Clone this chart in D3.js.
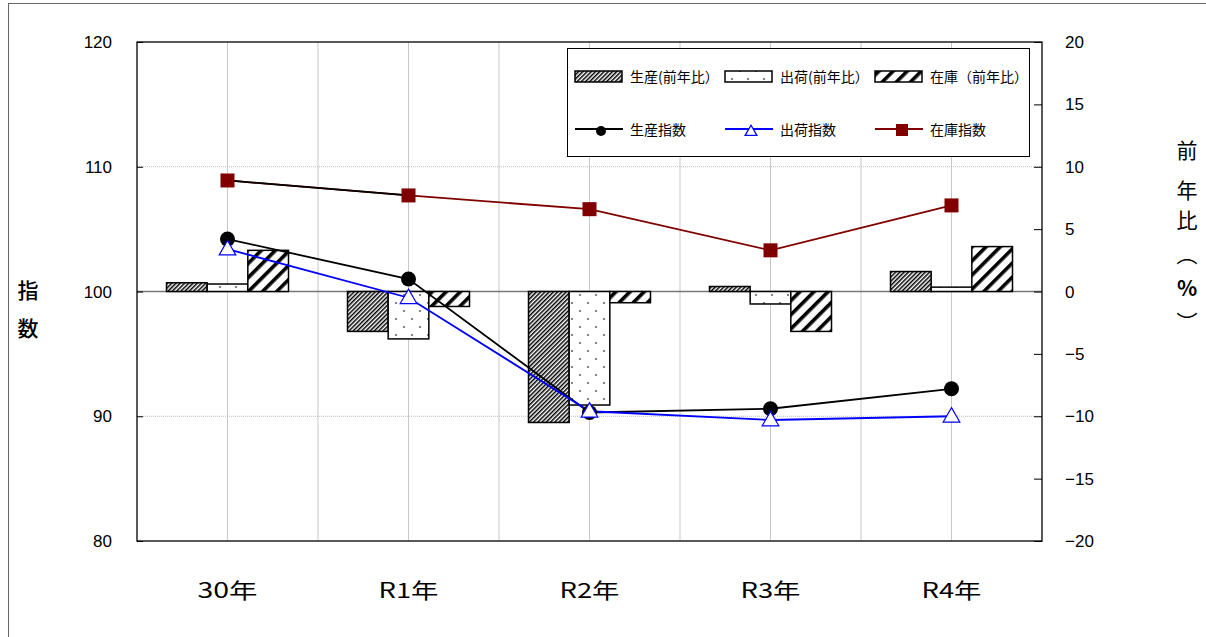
<!DOCTYPE html>
<html><head><meta charset="utf-8">
<script src="https://cdn.jsdelivr.net/npm/d3@7"></script>
<style>body{margin:0;background:#fff}</style>
</head><body>
<svg id="c" width="1206" height="637"></svg>
<script>
const categories = ["30年","R1年","R2年","R3年","R4年"];
const prodYoY = [0.7, -3.2, -10.5, 0.4, 1.6];
const shipYoY = [0.6, -3.8, -9.1, -1.0, 0.35];
const invYoY  = [3.3, -1.2, -0.9, -3.2, 3.6];
const prodIdx = [104.2, 101.0, 90.3, 90.6, 92.2];
const shipIdx = [103.4, 99.5, 90.4, 89.7, 90.0];
const invIdx  = [108.9, 107.7, 106.6, 103.3, 106.9];
const leftTicks = [80, 90, 100, 110, 120];
const rightTicks = [-20, -15, -10, -5, 0, 5, 10, 15, 20];

const svg = d3.select("#c");
const L = 137, R = 1042, T = 42, B = 541;
const jp = "'Noto Sans CJK JP','Noto Sans',sans-serif";
const num = "'Liberation Sans',Arial,sans-serif";

svg.append("rect").attr("x",8.5).attr("y",3.5).attr("width",1210).attr("height",650)
  .attr("fill","none").attr("stroke","#666").attr("stroke-width",1);

const defs = svg.append("defs");
function stripe(id, w, sw){
  const p = defs.append("pattern").attr("id",id).attr("patternUnits","userSpaceOnUse")
    .attr("width",w).attr("height",w).attr("patternTransform","rotate(45)");
  p.append("rect").attr("width",w).attr("height",w).attr("fill","#fff");
  p.append("rect").attr("x",0).attr("y",0).attr("width",sw).attr("height",w).attr("fill","#000");
}
stripe("pProd", 3, 1.5);
stripe("pInv", 10, 3.6);
const pd = defs.append("pattern").attr("id","pShip").attr("patternUnits","userSpaceOnUse")
  .attr("width",16).attr("height",16).attr("x",0).attr("y",3);
pd.append("rect").attr("width",16).attr("height",16).attr("fill","#fff");
pd.append("circle").attr("cx",4).attr("cy",4).attr("r",1.1).attr("fill","#666");
pd.append("circle").attr("cx",12).attr("cy",12).attr("r",1.1).attr("fill","#666");

const x = d3.scaleBand().domain(categories).range([L,R]);
const cx = c => x(c) + x.bandwidth()/2;
const yL = d3.scaleLinear().domain([80,120]).range([B,T]);
const yR = d3.scaleLinear().domain([-20,20]).range([B,T]);
const series = ["prod","ship","inv"];
const xs = d3.scaleBand().domain(series).range([-61,61]);

const vg = [];
categories.forEach((c,i)=>{ vg.push(cx(c)); if(i>0) vg.push(x(c)); });
svg.append("g").selectAll("line").data(vg).join("line")
  .attr("x1",d=>d).attr("x2",d=>d).attr("y1",T).attr("y2",B)
  .attr("stroke","#c8c8c8").attr("stroke-width",1);
svg.append("g").selectAll("line").data([90,110]).join("line")
  .attr("x1",L).attr("x2",R).attr("y1",d=>yL(d)).attr("y2",d=>yL(d))
  .attr("stroke","#bbb").attr("stroke-width",1).attr("stroke-dasharray","1,1");
svg.append("line").attr("x1",L).attr("x2",R).attr("y1",yR(0)).attr("y2",yR(0))
  .attr("stroke","#777").attr("stroke-width",1.3);

const barData = [];
categories.forEach((c,i)=>{
  barData.push({c, s:"prod", v:prodYoY[i], f:"url(#pProd)"});
  barData.push({c, s:"ship", v:shipYoY[i], f:"url(#pShip)"});
  barData.push({c, s:"inv",  v:invYoY[i],  f:"url(#pInv)"});
});
svg.append("g").selectAll("rect").data(barData).join("rect")
  .attr("x",d=>cx(d.c)+xs(d.s)).attr("width",xs.bandwidth())
  .attr("y",d=>Math.min(yR(d.v),yR(0))).attr("height",d=>Math.abs(yR(d.v)-yR(0)))
  .attr("fill",d=>d.f).attr("stroke","#000").attr("stroke-width",1.5);

svg.append("rect").attr("x",L).attr("y",T).attr("width",R-L).attr("height",B-T)
  .attr("fill","none").attr("stroke","#000").attr("stroke-width",1.3);

const gl = svg.append("g").attr("transform",`translate(${L},0)`)
  .call(d3.axisRight(yL).tickValues(leftTicks).tickSize(6).tickFormat(""));
gl.select(".domain").remove();
gl.selectAll("line").attr("stroke","#000");
svg.append("g").selectAll("text").data(leftTicks).join("text")
  .attr("x",112).attr("y",d=>yL(d)+6).attr("text-anchor","end")
  .attr("font-family",num).attr("font-size",17).text(d=>d);
const gr = svg.append("g").attr("transform",`translate(${R},0)`)
  .call(d3.axisLeft(yR).tickValues(rightTicks).tickSize(8).tickFormat(""));
gr.select(".domain").remove();
gr.selectAll("line").attr("stroke","#000");
svg.append("g").selectAll("text").data(rightTicks).join("text")
  .attr("x",1065).attr("y",d=>yR(d)+6).attr("text-anchor","start")
  .attr("font-family",num).attr("font-size",17).text(d=>d<0?"−"+(-d):d);
svg.append("g").selectAll("text").data(categories).join("text")
  .attr("x",d=>cx(d)).attr("y",598).attr("text-anchor","middle")
  .attr("font-family",jp).attr("font-size",21).attr("textLength",60)
  .attr("lengthAdjust","spacingAndGlyphs").text(d=>d);

svg.append("g").selectAll("text").data(["指","数"]).join("text")
  .attr("x",28).attr("y",(d,i)=>298+i*38).attr("text-anchor","middle")
  .attr("font-family",jp).attr("font-size",21).attr("font-weight",500).text(d=>d);
const rt = ["前","年","比","︵","%","︶"];
const rty = [158,198,228,262,296,330];
svg.append("g").selectAll("text").data(rt).join("text")
  .attr("x",1187).attr("y",(d,i)=>rty[i]).attr("text-anchor","middle")
  .attr("font-family",jp).attr("font-size",21).attr("font-weight",(d)=>d==="%"?"bold":"normal").text(d=>d);

const line = ys => d3.line().x((d,i)=>cx(categories[i])).y(d=>ys(d));
svg.append("path").datum(invIdx).attr("d",line(yL)).attr("fill","none").attr("stroke","#800000").attr("stroke-width",1.8);
svg.append("path").datum(invIdx.slice(0,2)).attr("d",line(yL)).attr("fill","none").attr("stroke","#000").attr("stroke-width",1.8);
svg.append("path").datum(prodIdx).attr("d",line(yL)).attr("fill","none").attr("stroke","#000").attr("stroke-width",1.8);
svg.append("path").datum(shipIdx).attr("d",line(yL)).attr("fill","none").attr("stroke","#0000ff").attr("stroke-width",1.8);

const tri = d3.symbol().type(d3.symbolTriangle).size(120);
svg.append("g").selectAll("rect").data(invIdx).join("rect")
  .attr("x",(d,i)=>cx(categories[i])-7).attr("y",d=>yL(d)-7).attr("width",14).attr("height",14)
  .attr("fill","#800000");
svg.append("g").selectAll("circle").data(prodIdx).join("circle")
  .attr("cx",(d,i)=>cx(categories[i])).attr("cy",d=>yL(d)).attr("r",7.5).attr("fill","#000");
svg.append("g").selectAll("path").data(shipIdx).join("path")
  .attr("transform",(d,i)=>`translate(${cx(categories[i])},${yL(d)+1})`).attr("d",tri)
  .attr("fill","#fff").attr("stroke","#0000ff").attr("stroke-width",1.2);

const lg = svg.append("g");
lg.append("rect").attr("x",567.5).attr("y",48.5).attr("width",462).attr("height",108)
  .attr("fill","#fff").attr("stroke","#000").attr("stroke-width",1);
const barLeg = [["url(#pProd)","生産(前年比）"],["url(#pShip)","出荷(前年比）"],["url(#pInv)","在庫（前年比）"]];
barLeg.forEach((b,i)=>{
  const x0 = 575 + i*150;
  lg.append("rect").attr("x",x0).attr("y",71).attr("width",47).attr("height",11)
    .attr("fill",b[0]).attr("stroke","#000").attr("stroke-width",1.5);
  lg.append("text").attr("x",x0+55).attr("y",82).attr("font-family",jp).attr("font-size",14).text(b[1]);
});
const lineLeg = [["#000","生産指数","c"],["#0000ff","出荷指数","t"],["#800000","在庫指数","s"]];
lineLeg.forEach((b,i)=>{
  const x0 = 575 + i*150, y0 = 129;
  lg.append("line").attr("x1",x0).attr("x2",x0+48).attr("y1",y0).attr("y2",y0).attr("stroke",b[0]).attr("stroke-width",1.8);
  if(b[2]==="c") lg.append("circle").attr("cx",x0+26).attr("cy",y0+2).attr("r",5).attr("fill","#000");
  if(b[2]==="t") lg.append("path").attr("transform",`translate(${x0+26},${y0+3})`).attr("d",d3.symbol().type(d3.symbolTriangle).size(60))
    .attr("fill","#fff").attr("stroke","#0000ff").attr("stroke-width",1.3);
  if(b[2]==="s") lg.append("rect").attr("x",x0+21).attr("y",y0-5).attr("width",12).attr("height",12).attr("fill","#800000");
  lg.append("text").attr("x",x0+55).attr("y",y0+6).attr("font-family",jp).attr("font-size",14).text(b[1]);
});
</script>
</body></html>
